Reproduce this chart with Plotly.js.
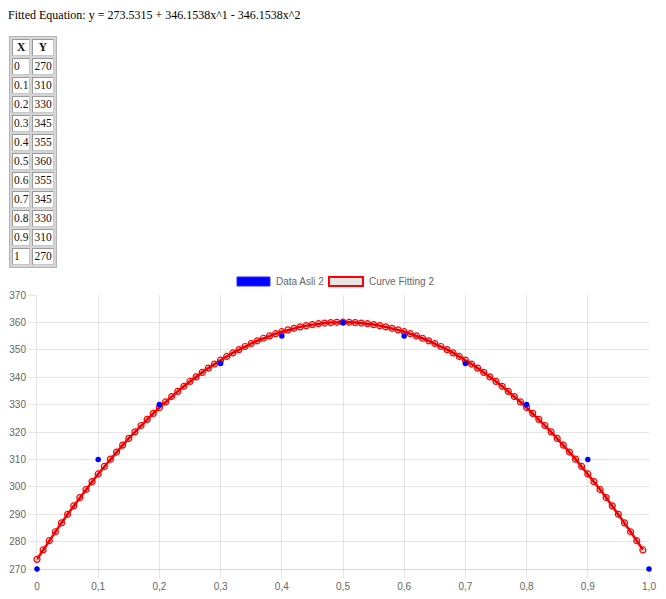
<!DOCTYPE html>
<html>
<head>
<meta charset="utf-8">
<script src="https://cdn.plot.ly/plotly-3.0.1.min.js"></script>
<style>
  html, body { margin: 0; padding: 0; background: #fff; width: 666px; height: 599px; overflow: hidden; }
  #chart { position: absolute; left: 0; top: 0; width: 666px; height: 599px; z-index: 0; }
  #eq { position: absolute; left: 8px; top: 8px; z-index: 2; font-family: "Liberation Serif", "Times New Roman", serif; font-size: 12px; line-height: 14px; color: #000; white-space: nowrap; }
  #tbl { position: absolute; left: 9px; top: 36px; z-index: 2; font-family: "Liberation Serif", "Times New Roman", serif; font-size: 11.5px; line-height: 13px; border-spacing: 2px; border: 1px solid #b4b4b4; background: #d6d6d6; color: #111; }
  #tbl td, #tbl th { padding: 1px 1px; text-align: left; background: #fff; border: 1px solid; border-color: #9a9a9a #c8c8c8 #c8c8c8 #9a9a9a; }
  #tbl th { text-align: center; font-weight: bold; }
</style>
</head>
<body>
<div id="chart"></div>
<div id="eq"></div>
<table id="tbl"></table>
<script>
const equationText = "Fitted Equation: y = 273.5315 + 346.1538x^1 - 346.1538x^2";
const tableHeaders = ["X", "Y"];
const dataX = [0, 0.1, 0.2, 0.3, 0.4, 0.5, 0.6, 0.7, 0.8, 0.9, 1];
const dataY = [270, 310, 330, 345, 355, 360, 355, 345, 330, 310, 270];
const fitX = [0, 0.01, 0.02, 0.03, 0.04, 0.05, 0.06, 0.07, 0.08, 0.09,
  0.1, 0.11, 0.12, 0.13, 0.14, 0.15, 0.16, 0.17, 0.18, 0.19,
  0.2, 0.21, 0.22, 0.23, 0.24, 0.25, 0.26, 0.27, 0.28, 0.29,
  0.3, 0.31, 0.32, 0.33, 0.34, 0.35, 0.36, 0.37, 0.38, 0.39,
  0.4, 0.41, 0.42, 0.43, 0.44, 0.45, 0.46, 0.47, 0.48, 0.49,
  0.5, 0.51, 0.52, 0.53, 0.54, 0.55, 0.56, 0.57, 0.58, 0.59,
  0.6, 0.61, 0.62, 0.63, 0.64, 0.65, 0.66, 0.67, 0.68, 0.69,
  0.7, 0.71, 0.72, 0.73, 0.74, 0.75, 0.76, 0.77, 0.78, 0.79,
  0.8, 0.81, 0.82, 0.83, 0.84, 0.85, 0.86, 0.87, 0.88, 0.89,
  0.9, 0.91, 0.92, 0.93, 0.94, 0.95, 0.96, 0.97, 0.98, 0.99];
const fitY = [273.53, 276.96, 280.32, 283.60, 286.82, 289.97, 293.05, 296.07, 299.01, 301.88,
  304.69, 307.42, 310.09, 312.68, 315.21, 317.67, 320.05, 322.37, 324.62, 326.80,
  328.92, 330.96, 332.93, 334.84, 336.67, 338.44, 340.13, 341.76, 343.32, 344.80,
  346.22, 347.57, 348.85, 350.07, 351.21, 352.28, 353.29, 354.22, 355.09, 355.88,
  356.61, 357.27, 357.85, 358.37, 358.82, 359.20, 359.52, 359.76, 359.93, 360.04,
  360.07, 360.04, 359.93, 359.76, 359.52, 359.20, 358.82, 358.37, 357.85, 357.27,
  356.61, 355.88, 355.09, 354.22, 353.29, 352.28, 351.21, 350.07, 348.85, 347.57,
  346.22, 344.80, 343.32, 341.76, 340.13, 338.44, 336.67, 334.84, 332.93, 330.96,
  328.92, 326.80, 324.62, 322.37, 320.05, 317.67, 315.21, 312.68, 310.09, 307.42,
  304.69, 301.88, 299.01, 296.07, 293.05, 289.97, 286.82, 283.60, 280.32, 276.96];
const xTickVals = [0, 0.1, 0.2, 0.3, 0.4, 0.5, 0.6, 0.7, 0.8, 0.9, 1];
const xTickText = ["0", "0,1", "0,2", "0,3", "0,4", "0,5", "0,6", "0,7", "0,8", "0,9", "1,0"];
const yTickVals = [270, 280, 290, 300, 310, 320, 330, 340, 350, 360, 370];
const seriesNames = ["Data Asli 2", "Curve Fitting 2"];

// HTML header and table
document.getElementById("eq").textContent = equationText;
const tbl = document.getElementById("tbl");
let html = "<tr>" + tableHeaders.map(h => "<th>" + h + "</th>").join("") + "</tr>";
for (let i = 0; i < dataX.length; i++) {
  html += "<tr><td>" + String(dataX[i]) + "</td><td>" + String(dataY[i]) + "</td></tr>";
}
tbl.innerHTML = html;

const gridC = "rgba(0,0,0,0.1)";
const tickFont = { family: "Liberation Sans, Arial, sans-serif", size: 10, color: "#666" };

const traces = [
  {
    x: fitX, y: fitY, type: "scatter", mode: "lines+markers", name: seriesNames[1],
    line: { color: "red", width: 2.5 },
    marker: { size: 6, color: "rgba(0,0,0,0.1)", line: { color: "red", width: 1.2 } },
    cliponaxis: false, showlegend: false, hoverinfo: "skip"
  },
  {
    x: dataX, y: dataY, type: "scatter", mode: "markers", name: seriesNames[0],
    marker: { size: 5.5, color: "blue", line: { color: "blue", width: 0 } },
    cliponaxis: false, showlegend: false, hoverinfo: "skip"
  }
];

const layout = {
  width: 666, height: 599,
  margin: { l: 37, r: 17, t: 295, b: 30, pad: 0 },
  paper_bgcolor: "rgba(0,0,0,0)", plot_bgcolor: "rgba(0,0,0,0)",
  showlegend: false,
  xaxis: {
    range: [0, 1], tickmode: "array", tickvals: xTickVals, ticktext: xTickText,
    showgrid: true, gridcolor: gridC, gridwidth: 1, zeroline: false,
    showline: true, linecolor: "rgba(0,0,0,0.15)", linewidth: 1,
    ticks: "outside", ticklen: 8, tickcolor: gridC, tickfont: tickFont, fixedrange: true
  },
  yaxis: {
    range: [270, 370], tickmode: "array", tickvals: yTickVals,
    showgrid: true, gridcolor: gridC, gridwidth: 1, zeroline: false,
    showline: true, linecolor: "rgba(0,0,0,0.1)", linewidth: 1,
    ticks: "outside", ticklen: 8, tickcolor: gridC, tickfont: tickFont, fixedrange: true
  },
  shapes: [
    { type: "rect", xref: "paper", yref: "paper", x0: 0.3268, x1: 0.3807, y0: 1.0328, y1: 1.0657,
      fillcolor: "blue", line: { color: "rgba(40,40,255,1)", width: 1 } },
    { type: "rect", xref: "paper", yref: "paper", x0: 0.4771, x1: 0.5327, y0: 1.0328, y1: 1.0657,
      fillcolor: "#e6e6e6", line: { color: "red", width: 2 } }
  ],
  annotations: [
    { xref: "paper", yref: "paper", x: 0.3873, y: 1.0493, xanchor: "left", yanchor: "middle",
      text: seriesNames[0], showarrow: false, font: tickFont },
    { xref: "paper", yref: "paper", x: 0.5392, y: 1.0493, xanchor: "left", yanchor: "middle",
      text: seriesNames[1], showarrow: false, font: tickFont }
  ]
};

Plotly.newPlot("chart", traces, layout, { displayModeBar: false, staticPlot: true });
</script>
</body>
</html>
